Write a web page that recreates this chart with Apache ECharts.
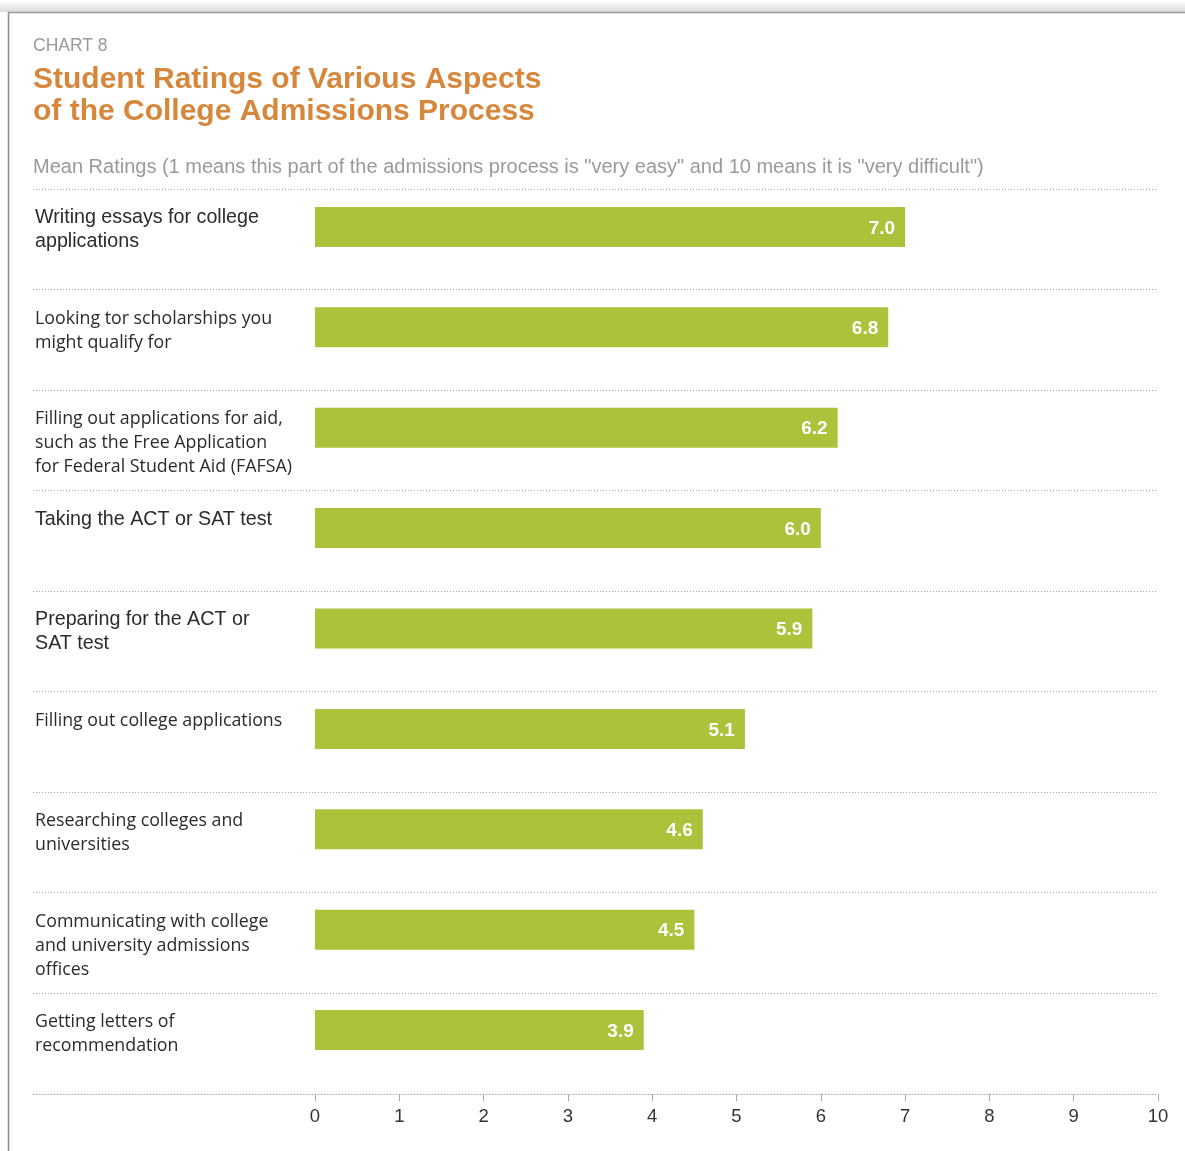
<!DOCTYPE html>
<html>
<head>
<meta charset="utf-8">
<title>Student Ratings of Various Aspects of the College Admissions Process</title>
<script src="https://cdn.jsdelivr.net/npm/echarts@6/dist/echarts.min.js"></script>
<style>
  html, body { margin: 0; padding: 0; background: #ffffff; }
  #chart { width: 1185px; height: 1151px; }
</style>
</head>
<body>
<div id="chart"></div>
<script>
// Aspects of the admissions process, top to bottom
const categories = [
  'Writing essays for college\napplications',
  'Looking tor scholarships you\nmight qualify for',
  'Filling out applications for aid,\nsuch as the Free Application\nfor Federal Student Aid (FAFSA)',
  'Taking the ACT or SAT test',
  'Preparing for the ACT or\nSAT test',
  'Filling out college applications',
  'Researching colleges and\nuniversities',
  'Communicating with college\nand university admissions\noffices',
  'Getting letters of\nrecommendation'
];
// Mean difficulty rating (1 = very easy, 10 = very difficult)
const meanRatings = [7.0, 6.8, 6.2, 6.0, 5.9, 5.1, 4.6, 4.5, 3.9];
// Typeface used for each category label ('h' = grotesque, 'm' = humanist)
const labelFace = ['h', 'm', 'm', 'h', 'h', 'm', 'm', 'm', 'm'];
// Rating scale ticks
const scaleMin = 0;
const scaleMax = 10;
const scaleStep = 1;

const SANS = '"Liberation Sans", Arial, Helvetica, sans-serif';
const HUMANIST = '"Open Sans", "Noto Sans", sans-serif';
const DOT = { color: '#ababab', width: 1, type: [1, 2] };

const chart = echarts.init(document.getElementById('chart'), null, { renderer: 'canvas' });

chart.setOption({
  animation: false,
  backgroundColor: '#ffffff',
  textStyle: { fontFamily: SANS },
  title: [
    {
      text: 'CHART 8',
      left: 28, top: 32,
      textStyle: { fontFamily: SANS, fontSize: 17.5, fontWeight: 'normal', color: '#9a9a9a' }
    },
    {
      text: 'Student Ratings of Various Aspects\nof the College Admissions Process',
      left: 28, top: 59,
      textStyle: { fontFamily: SANS, fontSize: 30, fontWeight: 'bold', color: '#d6873b', lineHeight: 32 }
    },
    {
      text: 'Mean Ratings (1 means this part of the admissions process is "very easy" and 10 means it is "very difficult")',
      left: 28, top: 152,
      textStyle: { fontFamily: SANS, fontSize: 20, fontWeight: 'normal', color: '#9a9a9a' }
    }
  ],
  graphic: [
    // page frame: soft shade along the top edge, rule on top and left
    {
      type: 'rect', silent: true, z: -1,
      shape: { x: 0, y: 0, width: 1185, height: 12 },
      style: {
        fill: new echarts.graphic.LinearGradient(0, 0, 0, 1, [
          { offset: 0, color: '#ffffff' },
          { offset: 1, color: '#dcdcdc' }
        ])
      }
    },
    {
      type: 'line', silent: true,
      shape: { x1: 8, y1: 12.5, x2: 1185, y2: 12.5 },
      style: { stroke: '#9c9c9c', lineWidth: 1.5 }
    },
    {
      type: 'line', silent: true,
      shape: { x1: 8.5, y1: 12, x2: 8.5, y2: 1151 },
      style: { stroke: '#8c8c8c', lineWidth: 1.5 }
    }
  ],
  grid: [
    // bars
    { left: 315, right: 27, top: 176.8, height: 903.4, containLabel: false },
    // row rules and category labels
    { left: 33, right: 27, top: 189, height: 804, containLabel: false }
  ],
  xAxis: [
    {
      gridIndex: 0, type: 'value',
      min: scaleMin, max: scaleMax, interval: scaleStep,
      offset: 13.8,
      axisLine: { show: false },
      axisTick: { show: true, length: 7, lineStyle: { color: '#a8a8a8', width: 1 } },
      splitLine: { show: false },
      axisLabel: { margin: 13, color: '#333333', fontSize: 18.5, fontFamily: SANS }
    },
    {
      gridIndex: 1, type: 'value',
      min: scaleMin, max: scaleMax, interval: scaleStep,
      offset: 101,
      axisLine: { show: true, lineStyle: DOT },
      axisTick: { show: false },
      axisLabel: { show: false },
      splitLine: { show: false }
    }
  ],
  yAxis: [
    {
      gridIndex: 0, type: 'category', inverse: true,
      data: categories,
      axisLine: { show: false },
      axisTick: { show: false },
      axisLabel: { show: false },
      splitLine: { show: false }
    },
    {
      gridIndex: 1, type: 'category', inverse: true, boundaryGap: false,
      data: categories,
      axisLine: { show: false },
      axisTick: { show: false },
      splitLine: { show: true, interval: 0, lineStyle: DOT },
      axisLabel: {
        show: true, interval: 0, inside: true, margin: 2,
        align: 'left', verticalAlign: 'top', padding: [17, 0, 0, 0],
        formatter: function (value, index) {
          const face = labelFace[index] || 'm';
          return value.split('\n').map(function (line) { return '{' + face + '|' + line + '}'; }).join('\n');
        },
        rich: {
          h: { fontFamily: SANS, fontSize: 19.7, lineHeight: 24, color: '#2b2b2b' },
          m: { fontFamily: HUMANIST, fontSize: 17.8, lineHeight: 24, color: '#2b2b2b' }
        }
      }
    }
  ],
  series: [
    {
      type: 'bar',
      xAxisIndex: 0, yAxisIndex: 0,
      data: meanRatings,
      barWidth: 40,
      itemStyle: { color: '#abc23a' },
      label: {
        show: true, position: 'insideRight', distance: 10, offset: [0, 1.5],
        color: '#ffffff', fontFamily: SANS, fontSize: 19, fontWeight: 'bold',
        formatter: function (p) { return p.value.toFixed(1); }
      }
    }
  ]
});
</script>
</body>
</html>
